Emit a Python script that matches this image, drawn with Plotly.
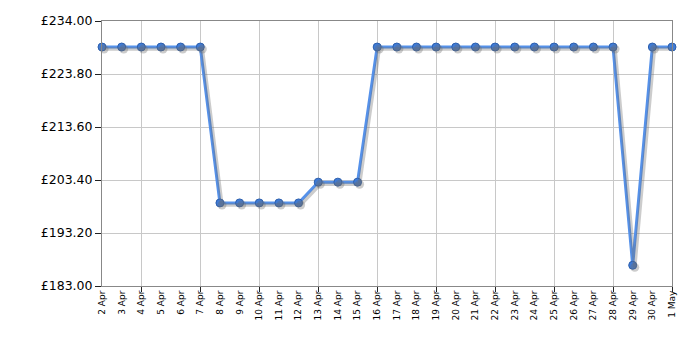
import plotly.graph_objects as go
import pandas as pd

dates = ["2024-04-02", "2024-04-03", "2024-04-04", "2024-04-05", "2024-04-06", "2024-04-07",
         "2024-04-08", "2024-04-09", "2024-04-10", "2024-04-11", "2024-04-12", "2024-04-13",
         "2024-04-14", "2024-04-15", "2024-04-16", "2024-04-17", "2024-04-18", "2024-04-19",
         "2024-04-20", "2024-04-21", "2024-04-22", "2024-04-23", "2024-04-24", "2024-04-25",
         "2024-04-26", "2024-04-27", "2024-04-28", "2024-04-29", "2024-04-30", "2024-05-01"]
labels = ["2 Apr", "3 Apr", "4 Apr", "5 Apr", "6 Apr", "7 Apr", "8 Apr", "9 Apr", "10 Apr",
          "11 Apr", "12 Apr", "13 Apr", "14 Apr", "15 Apr", "16 Apr", "17 Apr", "18 Apr",
          "19 Apr", "20 Apr", "21 Apr", "22 Apr", "23 Apr", "24 Apr", "25 Apr", "26 Apr",
          "27 Apr", "28 Apr", "29 Apr", "30 Apr", "1 May"]
prices = [228.99, 228.99, 228.99, 228.99, 228.99, 228.99,
          198.99, 198.99, 198.99, 198.99, 198.99,
          202.99, 202.99, 202.99,
          228.99, 228.99, 228.99, 228.99, 228.99, 228.99, 228.99, 228.99, 228.99, 228.99,
          228.99, 228.99, 228.99,
          186.99, 228.99, 228.99]
grid_dates = ["2024-04-04", "2024-04-07", "2024-04-10", "2024-04-13", "2024-04-16",
              "2024-04-19", "2024-04-22", "2024-04-25", "2024-04-28", "2024-05-01"]
y_ticks = [183.0, 193.2, 203.4, 213.6, 223.8, 234.0]

y_min, y_max = 183.0, 234.0
x0 = pd.Timestamp(dates[0])
x1 = pd.Timestamp(dates[-1])

# shadow offset (approx 2px right and down)
dx = pd.Timedelta(hours=2.5)
dy = 0.4

fig = go.Figure()
# dummy trace to activate the grid axis
fig.add_trace(go.Scatter(x=[dates[0]], y=[prices[0]], xaxis="x2", mode="markers",
                         marker=dict(opacity=0), hoverinfo="skip", showlegend=False))
# shadow
fig.add_trace(go.Scatter(x=dates, y=prices, mode="lines+markers", xaxis="x3", yaxis="y3",
                         line=dict(color="rgba(110,110,110,0.35)", width=3.5),
                         marker=dict(size=9, color="rgba(110,110,110,0.35)"),
                         hoverinfo="skip", cliponaxis=False, showlegend=False))
fig.add_trace(go.Scatter(x=dates, y=prices, mode="lines+markers",
                         line=dict(color="#5591ea", width=3),
                         marker=dict(size=8, color="#3f7bd6", line=dict(color="#2c5fae", width=1)),
                         cliponaxis=False, showlegend=False))

fig.update_layout(
    width=700, height=350,
    margin=dict(l=102, r=28, t=21, b=64),
    paper_bgcolor="white", plot_bgcolor="white",
    font=dict(family="DejaVu Sans", color="black"),
    xaxis=dict(type="date", range=[x0, x1], tickvals=dates, ticktext=labels,
               tickangle=-90, tickfont=dict(size=9), showgrid=False, ticks="",
               showline=True, linecolor="#888888", linewidth=1, mirror=True,
               zeroline=False),
    xaxis2=dict(type="date", range=[x0, x1], overlaying="x", tickvals=grid_dates,
                showticklabels=False, showgrid=True, gridcolor="#c8c8c8", gridwidth=1,
                ticks="outside", ticklen=5, tickcolor="#222222", side="bottom",
                showline=False, zeroline=False),
    xaxis3=dict(type="date", range=[x0 - dx, x1 - dx], overlaying="x", visible=False),
    yaxis=dict(range=[y_min, y_max], tickvals=y_ticks,
               ticktext=["£%.2f" % v for v in y_ticks], tickfont=dict(size=12.5),
               showgrid=True, gridcolor="#c8c8c8", ticks="outside", ticklen=6,
               tickcolor="#222222", showline=True, linecolor="#888888", mirror=True,
               zeroline=False),
    yaxis3=dict(range=[y_min + dy, y_max + dy], overlaying="y", visible=False),
)

fig.write_html("out.html")
